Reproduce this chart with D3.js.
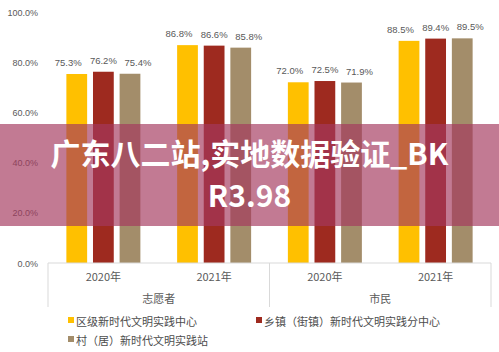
<!DOCTYPE html>
<html>
<head>
<meta charset="utf-8">
<style>
  body { margin: 0; background: #fff; }
  svg text { font-family: "Noto Sans CJK SC", "Liberation Sans", sans-serif; }
  svg text.num { font-family: "Liberation Sans", sans-serif; }
</style>
</head>
<body>
<div id="chart"></div>
<script src="https://d3js.org/d3.v7.min.js"></script>
<script>
// data
const groups = ["志愿者", "市民"];
const years = ["2020年", "2021年"];
const series = ["区级新时代文明实践中心", "乡镇（街镇）新时代文明实践分中心", "村（居）新时代文明实践站"];
const colors = ["#ffc000", "#9e2a1f", "#a38d6a"];
// values per category (group x year), one array per series
const district = [75.3, 86.8, 72.0, 88.5];
const town = [76.2, 86.6, 72.5, 89.4];
const village = [75.4, 85.8, 71.9, 89.5];
const yTicks = [0, 20, 40, 60, 80, 100];

const W = 499, H = 352;
const margin = { top: 12, right: 8, bottom: 89, left: 48 };

const svg = d3.select("#chart").append("svg")
  .attr("width", W).attr("height", H);

const cats = [];
groups.forEach(g => years.forEach(y => cats.push(g + "|" + y)));
const values = [district, town, village];

const x0 = d3.scaleBand().domain(cats)
  .range([margin.left, W - margin.right]);
const x1 = d3.scaleBand().domain(series)
  .range([0, 74]).paddingInner(0.22);
const y = d3.scaleLinear().domain([0, 100])
  .range([H - margin.bottom, margin.top]);

// y axis labels
svg.append("g").selectAll("text")
  .data(yTicks).join("text")
  .attr("class", "num")
  .attr("x", 38).attr("y", d => y(d) + 3.5)
  .attr("text-anchor", "end")
  .attr("font-size", 9).attr("fill", "#595959")
  .text(d => d.toFixed(1) + "%");

// bars
const barData = [];
cats.forEach((c, i) => series.forEach((s, j) => barData.push({ c, s, j, v: values[j][i] })));
const off = (x0.bandwidth() - 74) / 2;

svg.append("g").selectAll("rect")
  .data(barData).join("rect")
  .attr("x", d => x0(d.c) + off + x1(d.s))
  .attr("y", d => y(d.v))
  .attr("width", x1.bandwidth())
  .attr("height", d => y(0) - y(d.v))
  .attr("fill", d => colors[d.j]);

// labels are spread apart like Excel does to avoid overlap
const labelShift = [-8.5, 0, 8];
svg.append("g").selectAll("text")
  .data(barData).join("text")
  .attr("class", "num")
  .attr("x", d => x0(d.c) + off + x1(d.s) + x1.bandwidth() / 2 + labelShift[d.j])
  .attr("y", d => y(d.v) - 8)
  .attr("text-anchor", "middle")
  .attr("font-size", 9.5).attr("fill", "#595959")
  .text(d => d.v.toFixed(1) + "%");

// category axis
const axisY = y(0);
svg.append("line")
  .attr("x1", x0.range()[0]).attr("x2", x0.range()[1])
  .attr("y1", axisY).attr("y2", axisY)
  .attr("stroke", "#d9d9d9");

const dividers = [x0(cats[0]), x0(cats[2]), x0.range()[1]];
svg.append("g").selectAll("line")
  .data(dividers).join("line")
  .attr("x1", d => d).attr("x2", d => d)
  .attr("y1", axisY).attr("y2", axisY + 44)
  .attr("stroke", "#d9d9d9");

svg.append("g").selectAll("text")
  .data(cats).join("text")
  .attr("x", d => x0(d) + x0.bandwidth() / 2)
  .attr("y", axisY + 18)
  .attr("text-anchor", "middle")
  .attr("font-size", 11).attr("fill", "#595959")
  .text(d => d.split("|")[1]);

svg.append("g").selectAll("text")
  .data(groups).join("text")
  .attr("x", (d, i) => (x0(cats[i * 2]) + x0(cats[i * 2 + 1]) + x0.bandwidth()) / 2)
  .attr("y", axisY + 40)
  .attr("text-anchor", "middle")
  .attr("font-size", 11).attr("fill", "#595959")
  .text(d => d);

// legend
const legendPos = [[68, 322], [256, 322], [68, 341]];
const lg = svg.append("g").selectAll("g")
  .data(series).join("g")
  .attr("transform", (d, i) => `translate(${legendPos[i][0]},${legendPos[i][1]})`);
lg.append("rect")
  .attr("x", 0).attr("y", -5).attr("width", 6).attr("height", 6)
  .attr("fill", (d, i) => colors[i]);
lg.append("text")
  .attr("x", 8).attr("y", 4)
  .attr("font-size", 11).attr("fill", "#4d4d4d")
  .text(d => d);

// overlay banner
svg.append("rect")
  .attr("x", 0).attr("y", 124).attr("width", W).attr("height", 102)
  .attr("fill", "rgb(164,57,94)").attr("fill-opacity", 0.67);

const title = ["广东八二站,实地数据验证_BK", "R3.98"];
svg.append("g").selectAll("text")
  .data(title).join("text")
  .attr("x", W / 2)
  .attr("y", (d, i) => 165 + i * 42)
  .attr("text-anchor", "middle")
  .attr("font-size", 30).attr("font-weight", "bold")
  .attr("fill", "#fff")
  .text(d => d);
</script>
</body>
</html>
